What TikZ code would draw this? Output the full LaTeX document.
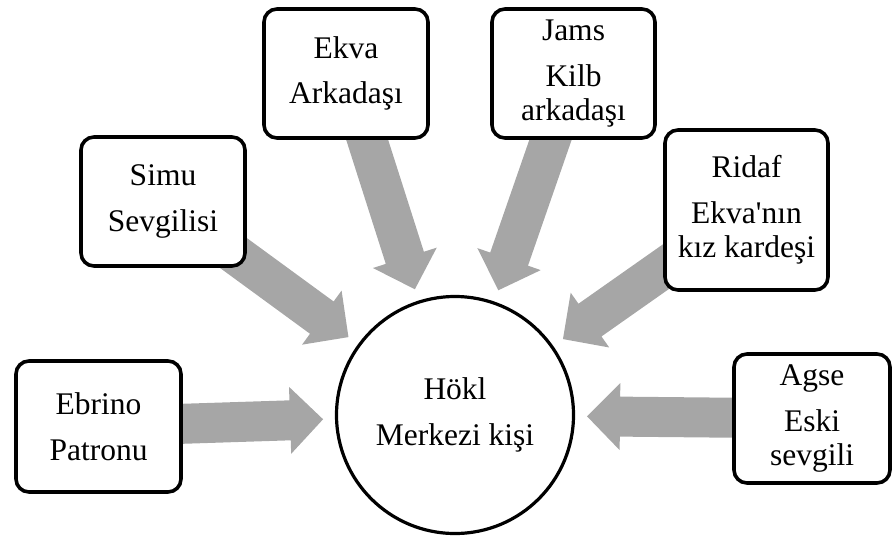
\documentclass[tikz,border=0pt]{standalone}
\usepackage{fontspec}
\setmainfont{Liberation Serif}[Ligatures=TeXOff]
\usetikzlibrary{calc}
\pgfdeclarelayer{bg}
\pgfsetlayers{bg,main}

\definecolor{spokegray}{HTML}{A6A6A6}

\tikzset{
  label font/.style={font=\fontsize{31.5}{34}\selectfont, align=center},
  personbox/.style={label font, draw=black, fill=white, line width=3.6pt,
    rounded corners=13pt, inner sep=0pt},
  hubcircle/.style={label font, draw=black, fill=white, line width=3.2pt,
    circle, minimum size=237pt, inner sep=0pt},
  spoke/.style={fill=spokegray}
}

% block arrow pointing from a box towards the hub
\newcommand{\spokearrow}[1]{%
  \coordinate (tip) at ($(hub.center)!132pt!(#1.center)$);
  \coordinate (base) at ($(hub.center)!165pt!(#1.center)$);
  \fill[spoke] (tip)
    -- ($(base)!33.5pt!90:(#1.center)$)
    -- ($(base)!20pt!90:(#1.center)$)
    -- ($(#1.center)!20pt!-90:(hub.center)$)
    -- ($(#1.center)!20pt!90:(hub.center)$)
    -- ($(base)!20pt!-90:(#1.center)$)
    -- ($(base)!33.5pt!-90:(#1.center)$)
    -- cycle;}

\begin{document}
\begin{tikzpicture}[x=1pt, y=-1pt]
  \useasboundingbox (0,0) rectangle (894,536);

  \node[hubcircle] (hub) at (455,415) {Hökl\\[11.5pt]Merkezi kişi};

  \node[personbox, minimum width=165pt, minimum height=131pt] (ebrino) at (98.5,426.5)
    {Ebrino\\[11.5pt]Patronu};
  \node[personbox, minimum width=164pt, minimum height=129pt] (simu) at (163,201.5)
    {Simu\\[11.5pt]Sevgilisi};
  \node[personbox, minimum width=164pt, minimum height=129pt] (ekva) at (346,73.5)
    {Ekva\\[11.5pt]Arkadaşı};
  \node[personbox, minimum width=163pt, minimum height=129pt] (jams) at (573.5,73.5)
    {Jams\\[11.5pt]Kilb\\arkadaşı};
  \node[personbox, minimum width=163pt, minimum height=160pt] (ridaf) at (746.5,210)
    {Ridaf\\[11.5pt]Ekva'nın\\kız kardeşi};
  \node[personbox, minimum width=156pt, minimum height=129pt] (agse) at (812,418.5)
    {Agse\\[11.5pt]Eski\\sevgili};

  \begin{pgfonlayer}{bg}
    \spokearrow{ebrino}
    \spokearrow{simu}
    \spokearrow{ekva}
    \spokearrow{jams}
    \spokearrow{ridaf}
    \spokearrow{agse}
  \end{pgfonlayer}
\end{tikzpicture}
\end{document}
